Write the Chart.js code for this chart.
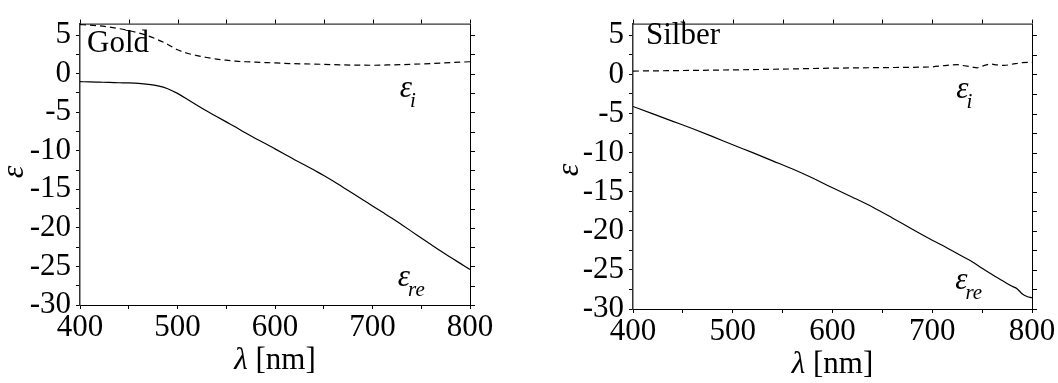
<!DOCTYPE html>
<html>
<head>
<meta charset="utf-8">
<script src="https://cdn.jsdelivr.net/npm/chart.js@4.4.0/dist/chart.umd.min.js"></script>
<style>
  html, body { margin: 0; background: #fff; }
  .panel { position: absolute; top: 0; width: 529px; height: 383px; }
  #goldWrap { left: 0; }
  #silverWrap { left: 529px; }
</style>
</head>
<body>
<div class="panel" id="goldWrap"><canvas id="goldChart" width="529" height="383"></canvas></div>
<div class="panel" id="silverWrap"><canvas id="silverChart" width="529" height="383"></canvas></div>
<script>
/* dielectric function of gold and silver, 400-800 nm */

const FONT = '"Liberation Serif", "Times New Roman", serif';

// Gold: real part
const goldReLambda = [400, 410, 420, 430, 440, 450, 460, 470, 480, 490,
  500, 510, 520, 530, 540, 550, 560, 570, 580, 590,
  600, 610, 620, 630, 640, 650, 660, 670, 680, 690,
  700, 710, 720, 730, 740, 750, 760, 770, 780, 790, 800];
const goldRe = [-1.03, -1.07, -1.10, -1.13, -1.17, -1.20, -1.26, -1.38, -1.58, -1.95,
  -2.55, -3.3, -4.1, -4.85, -5.55, -6.25, -6.95, -7.7, -8.4, -9.05,
  -9.75, -10.45, -11.15, -11.8, -12.5, -13.2, -13.95, -14.75, -15.55, -16.35,
  -17.15, -17.95, -18.75, -19.6, -20.45, -21.3, -22.15, -23.0, -23.8, -24.6, -25.4];

// Gold: imaginary part
const goldImLambda = [400, 410, 420, 430, 440, 450, 460, 470, 480, 490,
  500, 510, 520, 530, 540, 550, 560, 570, 580, 590,
  600, 620, 640, 660, 680, 700, 720, 740, 760, 780, 800];
const goldIm = [6.37, 6.3, 6.2, 6.05, 5.85, 5.6, 5.3, 4.9, 4.4, 3.8,
  3.1, 2.65, 2.35, 2.1, 1.9, 1.75, 1.62, 1.55, 1.5, 1.45,
  1.4, 1.3, 1.25, 1.17, 1.12, 1.1, 1.15, 1.22, 1.32, 1.45, 1.55];

// Silber: real part
const silverReLambda = [400, 420, 440, 460, 480, 500, 520, 540, 560, 580,
  600, 620, 640, 660, 680, 700, 710, 720, 730, 740,
  750, 760, 770, 780, 785, 790, 795, 800];
const silverRe = [-4.1, -5.05, -6.0, -6.95, -7.95, -9.0, -10.0, -11.05, -12.1, -13.25,
  -14.5, -15.7, -16.95, -18.35, -19.8, -21.2, -21.85, -22.55, -23.25, -23.95,
  -24.8, -25.6, -26.35, -27.1, -27.4, -28.05, -28.4, -28.55];

// Silber: imaginary part
const silverImLambda = [400, 450, 500, 550, 600, 650, 690, 700, 710, 720,
  725, 730, 740, 745, 750, 758, 765, 772, 780, 790, 800];
const silverIm = [0.43, 0.5, 0.58, 0.68, 0.8, 0.87, 0.93, 0.97, 1.1, 1.22,
  1.25, 1.15, 0.95, 0.85, 1.05, 1.32, 1.22, 1.15, 1.3, 1.5, 1.55];

const X_MIN = 400, X_MAX = 800, X_STEP = 50, X_LABEL_STEP = 100;
const Y_MIN = -30, Y_MAX = 6.5, Y_STEP = 2.5, Y_LABEL_STEP = 5;

function points(xs, ys) {
  return xs.map((x, i) => ({ x: x, y: ys[i] }));
}

function epsLabel(ctx, px, py, sub) {
  ctx.font = 'italic 31px ' + FONT;
  ctx.fillText('\u03B5', px, py);
  const w = ctx.measureText('\u03B5').width;
  ctx.font = 'italic 21px ' + FONT;
  ctx.fillText(sub, px + w - 2, py + 10);
}

// box, mirrored ticks on top/right, and all the text that is not tick labels
const frame = {
  id: 'frame',
  afterDraw(chart, args, o) {
    const { ctx, chartArea: a } = chart;
    const x = chart.scales.x, y = chart.scales.y;
    ctx.save();
    ctx.strokeStyle = '#000';
    ctx.lineWidth = 1;
    ctx.beginPath();
    ctx.moveTo(a.left, a.top + 0.5); ctx.lineTo(a.right + 0.5, a.top + 0.5); ctx.lineTo(a.right + 0.5, a.bottom);
    x.ticks.forEach((t) => {
      const px = Math.round(x.getPixelForValue(t.value)) + 0.5;
      ctx.moveTo(px, a.top); ctx.lineTo(px, a.top - 4);
    });
    y.ticks.forEach((t) => {
      const py = Math.round(y.getPixelForValue(t.value)) + 0.5;
      ctx.moveTo(a.right, py); ctx.lineTo(a.right + 5, py);
    });
    ctx.stroke();

    ctx.fillStyle = '#000';
    ctx.textBaseline = 'alphabetic';
    ctx.textAlign = 'left';

    ctx.font = '31px ' + FONT;
    ctx.fillText(o.name, o.nameX, o.nameY);

    epsLabel(ctx, x.getPixelForValue(o.epsIX), y.getPixelForValue(o.epsIY), 'i');
    epsLabel(ctx, x.getPixelForValue(o.epsReX), y.getPixelForValue(o.epsReY), 're');

    // x title: italic lambda + upright unit
    ctx.font = 'italic 31px ' + FONT;
    const wl = ctx.measureText('\u03BB').width;
    ctx.font = '31px ' + FONT;
    const wu = ctx.measureText(' [nm]').width;
    const cx = (a.left + a.right) / 2 - (wl + wu) / 2;
    const by = a.bottom + 64;
    ctx.font = 'italic 31px ' + FONT;
    ctx.fillText('\u03BB', cx, by);
    ctx.font = '31px ' + FONT;
    ctx.fillText(' [nm]', cx + wl, by);

    // y title
    ctx.translate(o.yTitleX, o.yTitleY);
    ctx.rotate(-Math.PI / 2);
    ctx.textAlign = 'center';
    ctx.textBaseline = 'middle';
    ctx.font = 'italic 32px ' + FONT;
    ctx.fillText('\u03B5', 0, 0);
    ctx.restore();
  }
};

function makeChart(id, reX, reY, imX, imY, p) {
  const tickFont = { family: FONT, size: 31 };
  return new Chart(document.getElementById(id), {
    type: 'line',
    data: { datasets: [
      { data: points(reX, reY), borderColor: '#000', borderWidth: 1.2, pointRadius: 0,
        cubicInterpolationMode: 'monotone' },
      { data: points(imX, imY), borderColor: '#000', borderWidth: 1.2, pointRadius: 0,
        borderDash: [6, 4], cubicInterpolationMode: 'monotone' },
    ] },
    options: {
      responsive: false, animation: false, events: [],
      layout: { padding: { left: 0, right: p.padRight, top: 10, bottom: 0 } },
      plugins: { legend: { display: false }, tooltip: { enabled: false }, frame: p },
      scales: {
        x: {
          type: 'linear', min: X_MIN, max: X_MAX,
          afterFit: (s) => { s.height = p.xHeight; },
          ticks: { stepSize: X_STEP, autoSkip: false, maxRotation: 0, padding: 0, color: '#000', font: tickFont,
            callback: (v) => (v % X_LABEL_STEP === 0 ? String(v) : '') },
          grid: { drawOnChartArea: false, tickLength: 4, tickColor: '#000' },
          border: { color: '#000', width: 1 },
        },
        y: {
          type: 'linear', min: Y_MIN, max: Y_MAX,
          afterBuildTicks: (s) => {
            s.ticks = s.ticks.filter((t) => Math.abs(t.value / Y_STEP - Math.round(t.value / Y_STEP)) < 1e-6);
          },
          afterFit: (s) => { s.width = p.yWidth; },
          ticks: { stepSize: Y_STEP, includeBounds: false, autoSkip: false, padding: 5, color: '#000', font: tickFont,
            callback: (v) => (Math.abs(v % Y_LABEL_STEP) < 1e-6 ? String(v) : '') },
          grid: { drawOnChartArea: false, tickLength: 4, tickColor: '#000' },
          border: { color: '#333', width: 1.5 },
        },
      },
    },
    plugins: [frame],
  });
}

makeChart('goldChart', goldReLambda, goldRe, goldImLambda, goldIm, {
  padRight: 59, yWidth: 80, xHeight: 78,
  name: 'Gold', nameX: 87, nameY: 52, yTitleX: 15, yTitleY: 172,
  epsIX: 728, epsIY: -3.0, epsReX: 726, epsReY: -27.5,
});

makeChart('silverChart', silverReLambda, silverRe, silverImLambda, silverIm, {
  padRight: 26, yWidth: 104, xHeight: 74,
  name: 'Silber', nameX: 117, nameY: 44, yTitleX: 41, yTitleY: 170,
  epsIX: 724, epsIY: -3.05, epsReX: 723, epsReY: -27.4,
});
</script>
</body>
</html>
